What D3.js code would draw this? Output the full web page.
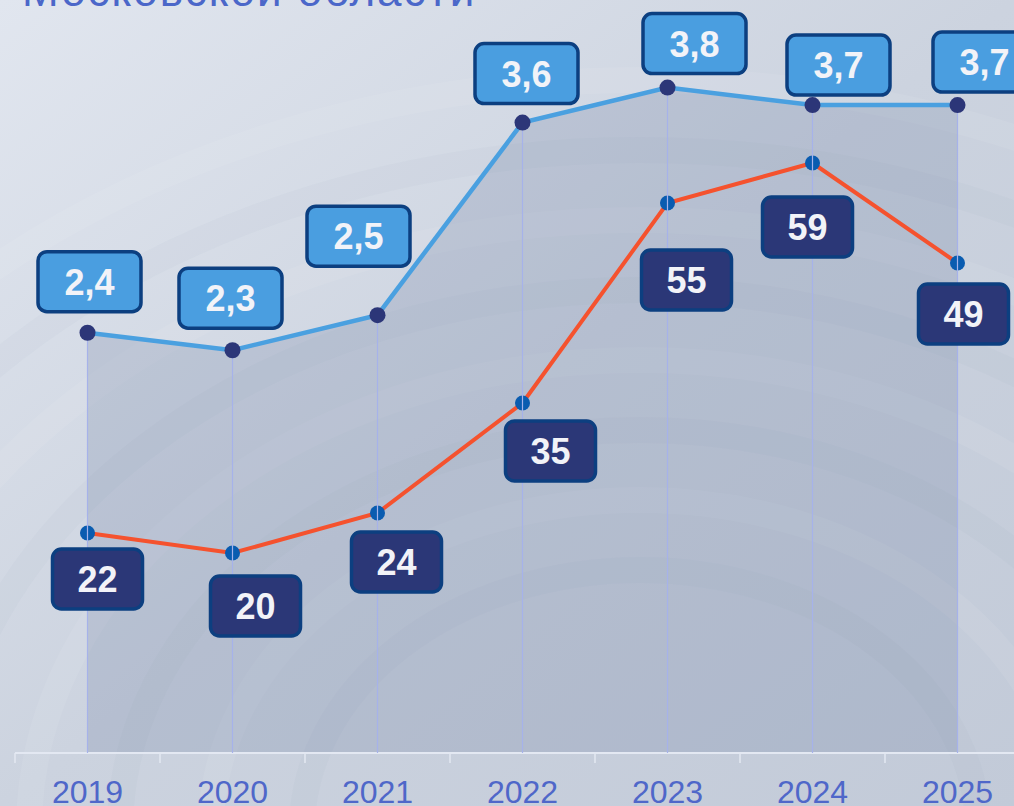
<!DOCTYPE html>
<html>
<head>
<meta charset="utf-8">
<script src="https://cdn.jsdelivr.net/npm/d3@7"></script>
<style>
  html, body { margin: 0; padding: 0; overflow: hidden; }
  body { width: 1014px; height: 806px; }
  text { font-family: "Liberation Sans", Arial, sans-serif; }
</style>
</head>
<body>
<div id="chart"></div>
<script>
// data
var years = ['2019', '2020', '2021', '2022', '2023', '2024', '2025'];
var blueValues = [2.4, 2.3, 2.5, 3.6, 3.8, 3.7, 3.7];
var redValues = [22, 20, 24, 35, 55, 59, 49];
var blueLabels = ['2,4', '2,3', '2,5', '3,6', '3,8', '3,7', '3,7'];
var redLabels = ['22', '20', '24', '35', '55', '59', '49'];

// label box placement relative to point (layout only)
var blueOffsets = [[2, -51], [-2, -52], [-19, -79], [4, -49], [27, -44], [26, -40], [27, -43]];
var redOffsets = [[10, 46], [23, 53], [19, 49], [28, 48], [19, 77], [-5, 64], [6, 51]];

var w = 1014;
var h = 806;
var axisY = 753;

var svg = d3.select('#chart').append('svg')
  .attr('width', w)
  .attr('height', h);

var defs = svg.append('defs');
var bg = defs.append('linearGradient').attr('id', 'bg')
  .attr('x1', 0).attr('y1', 0).attr('x2', 1).attr('y2', 1);
bg.append('stop').attr('offset', 0).attr('stop-color', '#e1e6ef');
bg.append('stop').attr('offset', 0.5).attr('stop-color', '#ccd3df');
bg.append('stop').attr('offset', 1).attr('stop-color', '#c2cad8');

svg.append('rect').attr('width', w).attr('height', h).attr('fill', 'url(#bg)');

// faint wood-like rings
var rings = svg.append('g').attr('fill', 'none');
[260, 330, 400, 470, 540, 610, 680, 750].forEach(function(r, i) {
  rings.append('ellipse')
    .attr('cx', 640).attr('cy', 830)
    .attr('rx', r * 1.3).attr('ry', r)
    .attr('stroke', i % 2 ? '#ffffff' : '#8f9bb3')
    .attr('stroke-opacity', i % 2 ? 0.07 : 0.05)
    .attr('stroke-width', 26);
});

// title (cut off at top)
svg.append('text')
  .attr('x', 22).attr('y', 6)
  .attr('font-size', 44)
  .attr('letter-spacing', 2)
  .attr('fill', '#4b67c9')
  .text('Московской области');

var x = d3.scaleBand().domain(years).range([15, 1030]).padding(0);
var cx = function(d) { return x(d) + x.bandwidth() / 2; };

var yBlue = d3.scaleLinear().domain([0, 4.3]).range([axisY, 0]);
var yRed = d3.scaleLinear().domain([0, 75.3]).range([axisY, 0]);

var blueData = years.map(function(d, i) { return {year: d, v: blueValues[i], label: blueLabels[i], off: blueOffsets[i]}; });
var redData = years.map(function(d, i) { return {year: d, v: redValues[i], label: redLabels[i], off: redOffsets[i]}; });

// shaded area under blue line
var area = d3.area()
  .x(function(d) { return cx(d.year); })
  .y0(axisY)
  .y1(function(d) { return yBlue(d.v); });

svg.append('path')
  .datum(blueData)
  .attr('fill', '#66789c')
  .attr('fill-opacity', 0.22)
  .attr('d', area);

// axis
var xAxis = d3.axisBottom(x).tickSize(0).tickPadding(0);
var gx = svg.append('g')
  .attr('transform', 'translate(0,' + axisY + ')')
  .call(xAxis);
gx.select('.domain').remove();
gx.selectAll('text')
  .attr('y', 50)
  .attr('dy', 0)
  .attr('font-size', 32)
  .attr('font-family', '"Liberation Sans", Arial, sans-serif')
  .attr('fill', '#4f67c9');

svg.append('line')
  .attr('x1', 15).attr('x2', w)
  .attr('y1', axisY).attr('y2', axisY)
  .attr('stroke', '#e3e8f2').attr('stroke-width', 2);

svg.selectAll('.tick-mark')
  .data(years)
  .enter()
  .append('line')
  .attr('class', 'tick-mark')
  .attr('x1', function(d) { return x(d); })
  .attr('x2', function(d) { return x(d); })
  .attr('y1', axisY)
  .attr('y2', axisY + 10)
  .attr('stroke', '#e3e8f2')
  .attr('stroke-width', 1.5);

// red line
var redLine = d3.line()
  .x(function(d) { return cx(d.year); })
  .y(function(d) { return yRed(d.v); });

svg.append('path')
  .datum(redData)
  .attr('fill', 'none')
  .attr('stroke', '#f5522e')
  .attr('stroke-width', 4)
  .attr('d', redLine);

svg.selectAll('.red-dot')
  .data(redData)
  .enter()
  .append('circle')
  .attr('class', 'red-dot')
  .attr('cx', function(d) { return cx(d.year); })
  .attr('cy', function(d) { return yRed(d.v); })
  .attr('r', 7.5)
  .attr('fill', '#0a5cb0');

// drop lines
svg.selectAll('.drop')
  .data(blueData)
  .enter()
  .append('line')
  .attr('class', 'drop')
  .attr('x1', function(d) { return cx(d.year); })
  .attr('x2', function(d) { return cx(d.year); })
  .attr('y1', function(d) { return yBlue(d.v); })
  .attr('y2', axisY)
  .attr('stroke', '#a6b2ea')
  .attr('stroke-width', 1.2);

// blue line
var blueLine = d3.line()
  .x(function(d) { return cx(d.year); })
  .y(function(d) { return yBlue(d.v); });

svg.append('path')
  .datum(blueData)
  .attr('fill', 'none')
  .attr('stroke', '#4aa0e0')
  .attr('stroke-width', 4.5)
  .attr('d', blueLine);

svg.selectAll('.blue-dot')
  .data(blueData)
  .enter()
  .append('circle')
  .attr('class', 'blue-dot')
  .attr('cx', function(d) { return cx(d.year); })
  .attr('cy', function(d) { return yBlue(d.v); })
  .attr('r', 8)
  .attr('fill', '#2c3678');

// label boxes
function drawLabels(data, yScale, bw, fill, cls) {
  var g = svg.selectAll('.' + cls)
    .data(data)
    .enter()
    .append('g')
    .attr('class', cls)
    .attr('transform', function(d) {
      return 'translate(' + (cx(d.year) + d.off[0]) + ',' + (yScale(d.v) + d.off[1]) + ')';
    });
  g.append('rect')
    .attr('x', -bw / 2).attr('y', -30)
    .attr('width', bw).attr('height', 60)
    .attr('rx', 9)
    .attr('fill', fill)
    .attr('stroke', '#0c3f80')
    .attr('stroke-width', 3.5);
  g.append('text')
    .attr('text-anchor', 'middle')
    .attr('y', 13)
    .attr('font-size', 36)
    .attr('font-weight', 'bold')
    .attr('fill', '#f2f3f8')
    .text(function(d) { return d.label; });
}

drawLabels(blueData, yBlue, 103, '#4a9ee0', 'blue-label');
drawLabels(redData, yRed, 90, '#2b3777', 'red-label');
</script>
</body>
</html>
